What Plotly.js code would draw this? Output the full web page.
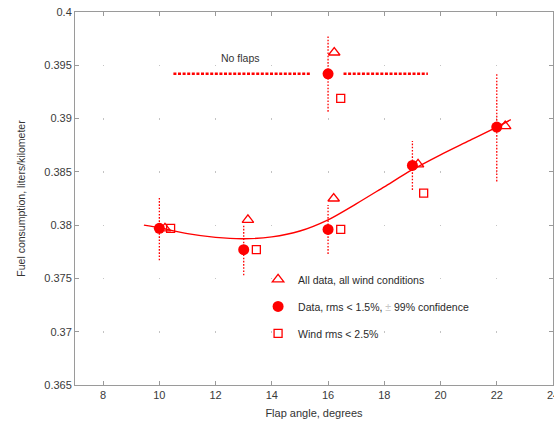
<!DOCTYPE html>
<html>
<head>
<meta charset="utf-8">
<script src="https://cdn.plot.ly/plotly-3.0.1.min.js"></script>
<style>html,body{margin:0;padding:0;background:#fff;}#chart{width:554px;height:422px;}</style>
</head>
<body>
<div id="chart"></div>
<script>
// Flap angle (degrees) of the main test points
const angles = [10, 13, 16, 19, 22];
// Data, rms < 1.5%, +/- 99% confidence (filled circles)
const dataMean = [0.3797, 0.3777, 0.3796, 0.3856, 0.3892];
const dataErr = [0.0030, 0.0024, 0.0023, 0.0023, 0.0051];
// All data, all wind conditions (open triangles)
const allAngles = [10.2, 13.15, 16.2, 19.2, 22.3];
const allMean = [0.3797, 0.3805, 0.3825, 0.3857, 0.3893];
// Wind rms < 2.5% (open squares)
const windAngles = [10.4, 13.45, 16.45, 19.4];
const windMean = [0.3797, 0.3777, 0.3796, 0.3830];
// No flaps reference
const noFlapAngle = 16;
const noFlapMean = 0.3942;
const noFlapErr = 0.00355;
const noFlapAllAngle = 16.22;
const noFlapAllMean = 0.3962;
const noFlapWindAngle = 16.45;
const noFlapWindMean = 0.3919;
const noFlapSpanX = [10.5, 15.4, null, 16.55, 19.55];
// Fitted curve
const fitX = [9.45, 10, 11, 12, 13, 14, 15, 16, 17, 18, 19, 20, 21, 22, 22.5];
const fitY = [0.3800, 0.37975, 0.3792, 0.37885, 0.37872, 0.3789, 0.37945, 0.3805, 0.3820, 0.3836, 0.3852, 0.3866, 0.3879, 0.3892, 0.3899];
// Axis ticks
const xTicks = [8, 10, 12, 14, 16, 18, 20, 22, 24];
const yTicks = [0.365, 0.37, 0.375, 0.38, 0.385, 0.39, 0.395, 0.4];

const RED = '#ff0000';
const W = 554, H = 422;
const M = {l: 75, r: 1, t: 12, b: 37};
const xRange = [7, 24], yRange = [0.365, 0.4];
const plotW = W - M.l - M.r, plotH = H - M.t - M.b;

// error bar segments built from data
const ebX = [], ebY = [];
angles.forEach((a, i) => {
  ebX.push(a, a, null);
  ebY.push(dataMean[i] - dataErr[i], dataMean[i] + dataErr[i], null);
});
ebX.push(noFlapAngle, noFlapAngle, null);
ebY.push(noFlapMean - noFlapErr, noFlapMean + noFlapErr, null);

// grid "dots" at tick intersections (MATLAB-like)
const pxPerX = plotW / (xRange[1] - xRange[0]);
const pxPerY = plotH / (yRange[1] - yRange[0]);
const yStep = 0.005 * pxPerY;
const xStep = 2 * pxPerX;
const xOff = (xTicks[0] - xRange[0]) * pxPerX;
const vDash = '1px,' + (yStep - 1).toFixed(2) + 'px';
const hDash = '0px,' + (xOff - 0.5).toFixed(2) + 'px,1px,' + (xStep - xOff - 0.5).toFixed(2) + 'px';

const traces = [
  {x: fitX, y: fitY, mode: 'lines', line: {color: RED, width: 1.4, shape: 'spline', smoothing: 0.8}, showlegend: false, hoverinfo: 'skip'},
  {x: ebX, y: ebY, mode: 'lines', line: {color: RED, width: 1.3, dash: '1.6px,1.6px'}, showlegend: false, hoverinfo: 'skip'},
  {x: noFlapSpanX, y: noFlapSpanX.map(v => v === null ? null : noFlapMean), mode: 'lines',
   line: {color: RED, width: 2.6, dash: '3px,1.6px'}, showlegend: false, hoverinfo: 'skip'},
  {x: allAngles.concat([noFlapAllAngle]), y: allMean.concat([noFlapAllMean]), mode: 'markers', name: 'All data, all wind conditions',
   legendgroup: 'a', marker: {symbol: 'triangle-up-open', size: 10, color: RED, line: {width: 1.3, color: RED}}},
  {x: angles.concat([noFlapAngle]), y: dataMean.concat([noFlapMean]), mode: 'markers',
   name: 'Data, rms &lt; 1.5%, <span style="color:#c8c8c8">±</span> 99% confidence',
   legendgroup: 'b', marker: {symbol: 'circle', size: 11, color: RED}},
  {x: windAngles.concat([noFlapWindAngle]), y: windMean.concat([noFlapWindMean]), mode: 'markers', name: 'Wind rms &lt; 2.5%',
   legendgroup: 'c', marker: {symbol: 'square-open', size: 8, color: RED, line: {width: 1.3, color: RED}}}
];

const axisCommon = {
  showline: true, linecolor: '#9a9a9a', linewidth: 1, mirror: 'ticks',
  ticks: 'inside', ticklen: 4, tickcolor: '#9a9a9a', tickwidth: 1,
  showgrid: true, gridcolor: '#c4c4c4', gridwidth: 1, zeroline: false,
  tickfont: {family: 'Liberation Sans, Arial, sans-serif', size: 11, color: '#3a3a3a'},
  ticklabeloverflow: 'allow'
};

const layout = {
  width: W, height: H,
  margin: M,
  paper_bgcolor: '#fff', plot_bgcolor: '#fff',
  font: {family: 'Liberation Sans, Arial, sans-serif', size: 11, color: '#333'},
  xaxis: Object.assign({}, axisCommon, {
    range: xRange, tickvals: xTicks, griddash: vDash,
    title: {text: 'Flap angle, degrees', font: {size: 11, color: '#333'}, standoff: 9}
  }),
  yaxis: Object.assign({}, axisCommon, {
    range: yRange, tickvals: yTicks, griddash: hDash,
    title: {text: 'Fuel consumption, liters/kilometer', font: {size: 10.5, color: '#333'}, standoff: 16}
  }),
  legend: {x: 0.383, y: 0.322, xanchor: 'left', yanchor: 'top', bgcolor: 'rgba(0,0,0,0)',
           font: {size: 10.5, color: '#2a2a2a'}, traceorder: 'grouped', tracegroupgap: 8, itemwidth: 30},
  annotations: [{x: 12.88, y: 0.3957, xref: 'x', yref: 'y', text: 'No flaps', showarrow: false,
                 font: {size: 10.5, color: '#333'}}],
  showlegend: true
};

Plotly.newPlot('chart', traces, layout, {displayModeBar: false, staticPlot: true});
</script>
</body>
</html>
